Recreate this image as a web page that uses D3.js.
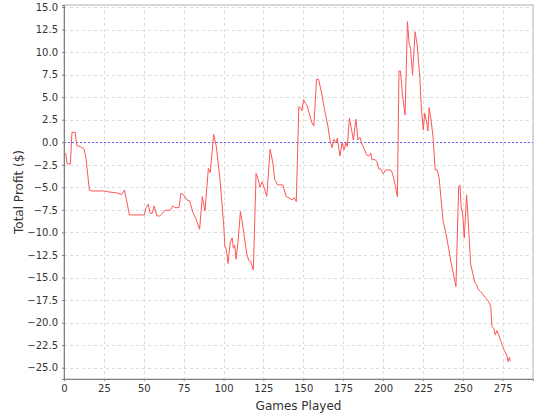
<!DOCTYPE html>
<html>
<head>
<meta charset="utf-8">
<script src="https://cdn.jsdelivr.net/npm/d3@7"></script>
<style>
  body { margin: 0; background: #fff; }
  .tick text { font-family: "DejaVu Sans", sans-serif; font-size: 10px; fill: #333; }
  .axis-title { font-family: "DejaVu Sans", sans-serif; font-size: 12px; fill: #333; }
</style>
</head>
<body>
<div id="chart-area"></div>
<script>
// games played (x) and running profit in dollars (y)
var games = [1, 2, 4, 5, 7, 8, 10.5, 12.6, 13.8, 15.9, 17.4, 24.7, 27.8, 33, 36.2, 37.9, 40.4, 41,
  50.3, 51.5, 52.8, 54, 55.3, 56.5, 58.2, 59.9, 61.6, 63.3, 66.6, 68.3, 69.5, 72.1, 73.3, 75, 77.1,
  78.7, 80.8, 82.9, 85, 86.7, 88.4, 90.5, 91.7, 93.8, 95.5, 98, 100.1, 100.9, 101.8, 102.8, 104.1,
  105.4, 106.2, 107, 107.9, 109.1, 110.6, 112, 113.3, 114.5, 115.8, 117, 118.7, 120.4, 121.7, 122.9,
  124.2, 125.9, 127.1, 129.2, 130.9, 132.1, 133.8, 137.2, 139.3, 141.4, 143.1, 144.3, 145.6, 147.2,
  148.5, 149.1, 150.2, 151.3, 152.5, 153.7, 155.4, 156.6, 158.3, 159.6, 161.3, 162.6, 164.2, 165.5,
  166.7, 168, 169.2, 170.5, 171.3, 173, 174.3, 175.5, 176.8, 177.6, 178.9, 180.1, 181.4, 183, 184.3,
  185.5, 186.8, 188.5, 189.7, 191, 192.3, 193.1, 194.8, 196.1, 197.3, 198.5, 200.2, 201.5, 204,
  205.3, 206.5, 207.8, 209, 210, 210.9, 212.2, 213.8, 215.3, 216.3, 217.2, 218.5, 220.1, 221.4,
  223.1, 223.9, 225.2, 226.1, 227.3, 228.1, 228.9, 230.2, 231.4, 232.7, 233.9, 235.2, 236.4, 237.7,
  239.4, 241.1, 242.7, 244, 245.7, 247.4, 248.2, 249, 249.9, 250.9, 252.4, 253.6, 254.9, 256.2,
  257.4, 258.7, 259.5, 261.2, 262.8, 264.5, 266.2, 267.5, 268.3, 269.6, 270.4, 271.3, 272.5, 273.8,
  275, 276.3, 277.5, 278.4, 279.2, 279.8];
var profit = [-1.2, -2.4, -2.4, 1.1, 1.1, -0.37, -0.5, -0.75, -1.8, -5.3, -5.4, -5.4, -5.5, -5.6, -5.8, -5.3, -7.5, -8.06,
  -8.06, -7.25, -6.87, -7.87, -7.87, -7.06, -8.17, -8.17, -7.9, -7.54, -7.54, -7.06, -7.25, -7.25, -5.66, -5.84, -6.4,
  -6.5, -7.76, -8.58, -9.65, -6.03, -7.6, -2.9, -3.37, 0.89, -0.49, -4.55, -9.17, -11.57, -11.94, -13.45, -11.2,
  -10.6, -11.75, -11.4, -12.97, -11.0, -7.69, -9.17, -10.83, -12.3, -13.1, -13.2, -14.16, -3.44, -4.1, -5.0,
  -4.37, -5.29, -6.0, -0.78, -2.26, -4.1, -4.73, -4.73, -6.03, -6.2, -6.4, -6.14, -6.58, 3.95,
  3.77, 3.5, 4.72, 4.32, 4.02, 3.21, 2.17, 1.8, 6.98, 6.98, 5.61, 4.32, 2.84, 1.73,
  0.25, -0.6, 0.33, -0.04, 0.44, -1.52, -0.04, -0.85, -0.04, -0.49, 2.66, 1.55, 0.25, 2.55, 0.25,
  0.55, -0.19, -0.85, -1.41, -1.52, -1.22, -1.96, -1.89, -2.15, -2.96, -2.96, -3.51, -3.07, -3.07,
  -3.15, -3.88, -4.92, -6.03, 7.9, 7.9, 5.24, 3.03, 13.37, 10.98, 10.42, 7.46, 12.26, 10.79,
  7.1, 4.14, 1.36, 3.21, 2.28, 1.25, 3.84, 2.36, 0.44, -3.07, -3.07, -3.99, -6.4, -8.8,
  -10.1, -11.75, -13.4, -14.5, -16.0, -4.92, -4.73, -7.3, -7.87, -10.6, -5.84, -9.36, -13.5, -14.5,
  -15.56, -15.8, -16.3, -16.56, -16.93, -17.3, -17.67, -18.2, -20.44, -20.7, -21.36, -20.89, -21.36, -22.0,
  -22.66, -23.2, -23.58, -24.3, -23.84, -24.3];
var xTicks = [0, 25, 50, 75, 100, 125, 150, 175, 200, 225, 250, 275];
var yTicks = [15, 12.5, 10, 7.5, 5, 2.5, 0, -2.5, -5, -7.5, -10, -12.5, -15, -17.5, -20, -22.5, -25];

var margin = { left: 64, right: 7, top: 5, bottom: 41 },
    width = 540 - margin.left - margin.right,
    height = 420 - margin.top - margin.bottom;

var svg = d3.select("#chart-area").append("svg")
    .attr("width", 540)
    .attr("height", 420);

var g = svg.append("g")
    .attr("transform", "translate(" + margin.left + "," + margin.top + ")");

var x = d3.scaleLinear().domain([0, 294]).range([0, width]);
var y = d3.scaleLinear().domain([-26.25, 15.22]).range([height, 0]);

// plot background + border
g.append("rect")
    .attr("width", width).attr("height", height)
    .attr("fill", "#fff").attr("stroke", "#b0b0b0");

// gridlines
g.selectAll(".vgrid").data(xTicks.slice(1)).enter().append("line")
    .attr("x1", function(d) { return Math.round(x(d)) + 0.5; })
    .attr("x2", function(d) { return Math.round(x(d)) + 0.5; })
    .attr("y1", 0).attr("y2", height)
    .attr("stroke", "#dcdcdc").attr("stroke-dasharray", "3,3");
g.selectAll(".hgrid").data(yTicks).enter().append("line")
    .attr("x1", 0).attr("x2", width)
    .attr("y1", function(d) { return Math.round(y(d)) + 0.5; })
    .attr("y2", function(d) { return Math.round(y(d)) + 0.5; })
    .attr("stroke", "#dcdcdc").attr("stroke-dasharray", "3,3");

// zero marker
g.append("line")
    .attr("x1", 0).attr("x2", width)
    .attr("y1", Math.round(y(0)) + 0.5).attr("y2", Math.round(y(0)) + 0.5)
    .attr("stroke", "#6666ff").attr("stroke-dasharray", "2,2");

// axes
var xAxis = g.append("g")
    .attr("transform", "translate(0," + height + ")")
    .call(d3.axisBottom(x).tickValues(xTicks).tickSize(2).tickPadding(4).tickFormat(d3.format("d")));
var yAxis = g.append("g")
    .call(d3.axisLeft(y).tickValues(yTicks).tickSize(2).tickPadding(4).tickFormat(d3.format(".1f")));
g.selectAll(".domain").attr("stroke", "#808080");
g.selectAll(".tick line").attr("stroke", "#808080");

// profit line
var line = d3.line()
    .x(function(d, i) { return x(games[i]); })
    .y(function(d) { return y(d); });

g.append("path")
    .attr("fill", "none")
    .attr("stroke", "#ff5555")
    .attr("stroke-width", 1)
    .attr("d", line(profit));

// axis titles
svg.append("text")
    .attr("class", "axis-title")
    .attr("x", margin.left + width / 2)
    .attr("y", 410)
    .attr("text-anchor", "middle")
    .text("Games Played");
svg.append("text")
    .attr("class", "axis-title")
    .attr("transform", "translate(23," + (margin.top + height / 2) + ") rotate(-90)")
    .attr("text-anchor", "middle")
    .text("Total Profit ($)");
</script>
</body>
</html>
